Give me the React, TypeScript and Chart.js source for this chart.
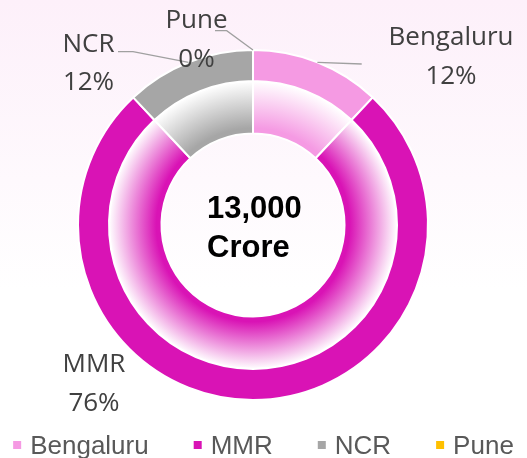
import React, { useEffect, useRef } from "react";
import { Chart, registerables } from "chart.js";

Chart.register(...registerables);

// ---- data ----
const categories = ["Bengaluru", "MMR", "NCR", "Pune"];
const shares = [12, 76, 12, 0];
const percentLabels = ["12%", "76%", "12%", "0%"];
const totalLines = ["13,000", "Crore"];
const colors = ["#F59AE3", "#D913B5", "#A6A6A6", "#FFC000"];

// ---- label layout (relative to chart centre) ----
const labelLayout = [
  { dx: 198, dy: -180, leader: [[108.7, -161]] },
  { dx: -159, dy: 147, leader: [] as number[][] },
  { dx: -164.5, dy: -173.3, leader: [[-120, -173.3], [-135, -173.3]] },
  { dx: -56.5, dy: -197, leader: [[-26.3, -194.3], [-38, -194.3]] },
];

const W = 527;
const H = 458;

function radialFill(ctx: any) {
  const color = colors[ctx.dataIndex] || "#FFFFFF";
  const chart = ctx.chart;
  const area = chart.chartArea;
  const meta = chart.getDatasetMeta(ctx.datasetIndex);
  const ctrl: any = meta && meta.controller;
  if (!area || !ctrl || !ctrl.outerRadius) return color;
  const cx = (area.left + area.right) / 2 + (ctrl.offsetX || 0);
  const cy = (area.top + area.bottom) / 2 + (ctrl.offsetY || 0);
  const r0 = ctrl.innerRadius;
  const r1 = ctrl.outerRadius;
  const g = chart.ctx.createRadialGradient(cx, cy, r0, cx, cy, r1);
  g.addColorStop(0, color);
  g.addColorStop(0.1, color);
  g.addColorStop(1, "#FFFFFF");
  return g;
}

const overlayPlugin = {
  id: "overlay",
  afterDatasetsDraw(chart: any) {
    const { ctx, chartArea } = chart;
    const cx = (chartArea.left + chartArea.right) / 2;
    const cy = (chartArea.top + chartArea.bottom) / 2;
    const outerMeta = chart.getDatasetMeta(0);
    ctx.save();
    // leader lines
    ctx.strokeStyle = "#A0A0A0";
    ctx.lineWidth = 1.3;
    outerMeta.data.forEach((arc: any, i: number) => {
      const pts = labelLayout[i].leader;
      if (!pts.length) return;
      const mid = (arc.startAngle + arc.endAngle) / 2;
      const r = arc.outerRadius;
      ctx.beginPath();
      ctx.moveTo(cx + Math.cos(mid) * r, cy + Math.sin(mid) * r);
      pts.forEach((p) => ctx.lineTo(cx + p[0], cy + p[1]));
      ctx.stroke();
    });
    // data labels
    ctx.fillStyle = "#404040";
    ctx.font = '26px "Open Sans"';
    ctx.textAlign = "center";
    ctx.textBaseline = "alphabetic";
    categories.forEach((c, i) => {
      const l = labelLayout[i];
      ctx.fillText(c, cx + l.dx, cy + l.dy);
      ctx.fillText(percentLabels[i], cx + l.dx, cy + l.dy + 38.5);
    });
    // centre text
    ctx.fillStyle = "#000000";
    ctx.font = 'bold 31px "Liberation Sans"';
    ctx.textAlign = "left";
    ctx.fillText(totalLines[0], cx - 46, cy - 7);
    ctx.fillText(totalLines[1], cx - 46, cy + 32);
    // legend
    ctx.font = '26px "Liberation Sans"';
    const box = 8;
    const gap = 9;
    const spacing = 45;
    const widths = categories.map((c) => box + gap + ctx.measureText(c).width);
    const total = widths.reduce((a, b) => a + b, 0) + spacing * (categories.length - 1);
    let x = W / 2 - total / 2;
    const baseY = 453.5;
    categories.forEach((c, i) => {
      ctx.fillStyle = colors[i];
      ctx.fillRect(x, 441, box, box);
      ctx.fillStyle = "#595959";
      ctx.fillText(c, x + box + gap, baseY);
      x += widths[i] + spacing;
    });
    ctx.restore();
  },
};

export default function App() {
  const ref = useRef<HTMLCanvasElement | null>(null);
  useEffect(() => {
    document.body.style.margin = "0";
    if (!ref.current) return;
    const chart = new Chart(ref.current, {
      type: "doughnut",
      data: {
        labels: categories,
        datasets: [
          {
            data: shares,
            backgroundColor: colors,
            borderColor: "#FFFFFF",
            borderWidth: 2,
            weight: 31,
          } as any,
          {
            data: shares,
            backgroundColor: radialFill,
            borderColor: "#FFFFFF",
            borderWidth: 2,
            weight: 52.5,
          } as any,
        ],
      },
      options: {
        animation: false,
        responsive: false,
        events: [],
        radius: 175,
        cutout: "52.3%",
        layout: { padding: { left: 0, right: 21, top: 0, bottom: 8 } },
        plugins: {
          legend: { display: false },
          tooltip: { enabled: false },
        },
      } as any,
      plugins: [overlayPlugin],
    });
    return () => chart.destroy();
  }, []);
  return (
    <div
      style={{
        width: W,
        height: H,
        background: "linear-gradient(to bottom, #FDF0FA 0px, #FEF9FD 180px, #FFFFFF 290px)",
      }}
    >
      <canvas ref={ref} width={W} height={H} style={{ display: "block", width: W, height: H }} />
    </div>
  );
}
